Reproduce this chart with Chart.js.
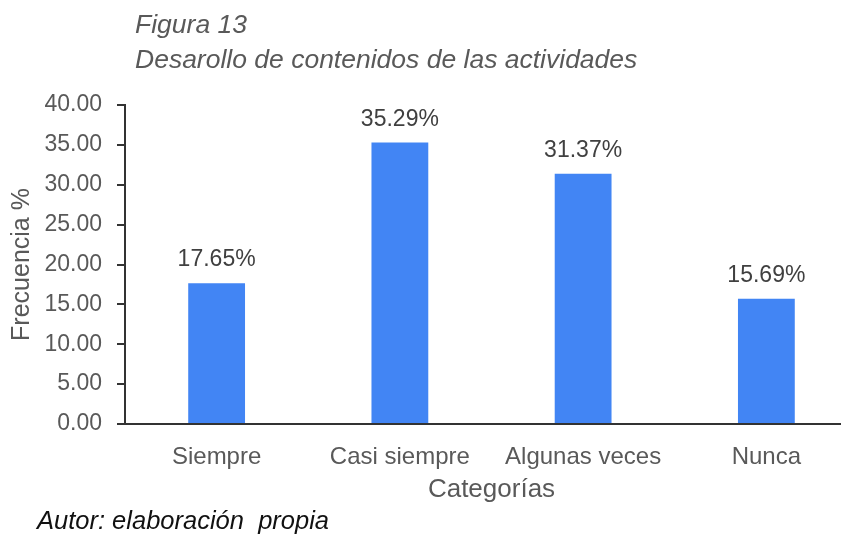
<!DOCTYPE html>
<html>
<head>
<meta charset="utf-8">
<script src="https://cdn.jsdelivr.net/npm/chart.js@4/dist/chart.umd.min.js"></script>
<style>
  html, body { margin: 0; padding: 0; background: #fff; overflow: hidden; }
  body { width: 841px; height: 534px; position: relative; font-family: "Liberation Sans", Arial, sans-serif; }
  #wrap { position: absolute; left: 0; top: 0; width: 880px; height: 534px; }
  .titulo { position: absolute; left: 135px; top: 7px; font-style: italic; font-size: 26.5px; line-height: 35px; color: #595959; white-space: pre; }
  .autor { position: absolute; left: 37px; top: 505px; font-style: italic; font-size: 25.5px; line-height: 30px; color: #111; white-space: pre; }
</style>
</head>
<body>
<div id="wrap"><canvas id="grafico" width="880" height="534"></canvas></div>
<div class="titulo">Figura 13
Desarollo de contenidos de las actividades</div>
<div class="autor">Autor: elaboración  propia</div>
<script>
// Datos del gráfico
const categorias = ["Siempre", "Casi siempre", "Algunas veces", "Nunca"];
const frecuencias = [17.65, 35.29, 31.37, 15.69];
const yMin = 0;
const yMax = 40;
const yPaso = 5;

const colorTexto = "#595959";
const colorEje = "#333333";
const fuente = "'Liberation Sans', Arial, sans-serif";

// Etiquetas de valor encima de cada barra
const etiquetasValor = {
  id: "etiquetasValor",
  afterDatasetsDraw(chart) {
    const ctx = chart.ctx;
    const meta = chart.getDatasetMeta(0);
    ctx.save();
    ctx.font = "23px " + fuente;
    ctx.fillStyle = "#404040";
    ctx.textAlign = "center";
    ctx.textBaseline = "alphabetic";
    meta.data.forEach((barra, i) => {
      ctx.fillText(frecuencias[i].toFixed(2) + "%", barra.x, barra.y - 17);
    });
    ctx.restore();
  }
};

const ctx = document.getElementById("grafico").getContext("2d");
new Chart(ctx, {
  type: "bar",
  data: {
    labels: categorias,
    datasets: [{
      data: frecuencias,
      backgroundColor: "#4285F4",
      barPercentage: 0.31,
      categoryPercentage: 1.0
    }]
  },
  options: {
    responsive: false,
    animation: false,
    layout: { padding: { top: 105, right: 22, bottom: 0, left: 0 } },
    plugins: {
      legend: { display: false },
      tooltip: { enabled: false }
    },
    scales: {
      x: {
        grid: { display: false },
        border: { display: true, color: colorEje, width: 2 },
        ticks: {
          color: colorTexto,
          padding: 11,
          font: { family: fuente, size: 24 }
        },
        title: {
          display: true,
          text: "Categorías",
          color: colorTexto,
          padding: { top: 0, bottom: 29 },
          font: { family: fuente, size: 26 }
        },
        afterFit(scale) { scale.height = 110; }
      },
      y: {
        min: yMin,
        max: yMax,
        grid: { drawOnChartArea: false, drawTicks: true, tickLength: 8, color: colorEje, lineWidth: 2 },
        border: { display: true, color: colorEje, width: 2 },
        ticks: {
          stepSize: yPaso,
          color: colorTexto,
          padding: 15,
          font: { family: fuente, size: 23 },
          callback: v => Number(v).toFixed(2)
        },
        title: {
          display: true,
          text: "Frecuencia %",
          color: colorTexto,
          padding: { top: 7, bottom: 0 },
          font: { family: fuente, size: 25 }
        },
        afterFit(scale) { scale.width = 125; }
      }
    }
  },
  plugins: [etiquetasValor]
});
</script>
</body>
</html>
